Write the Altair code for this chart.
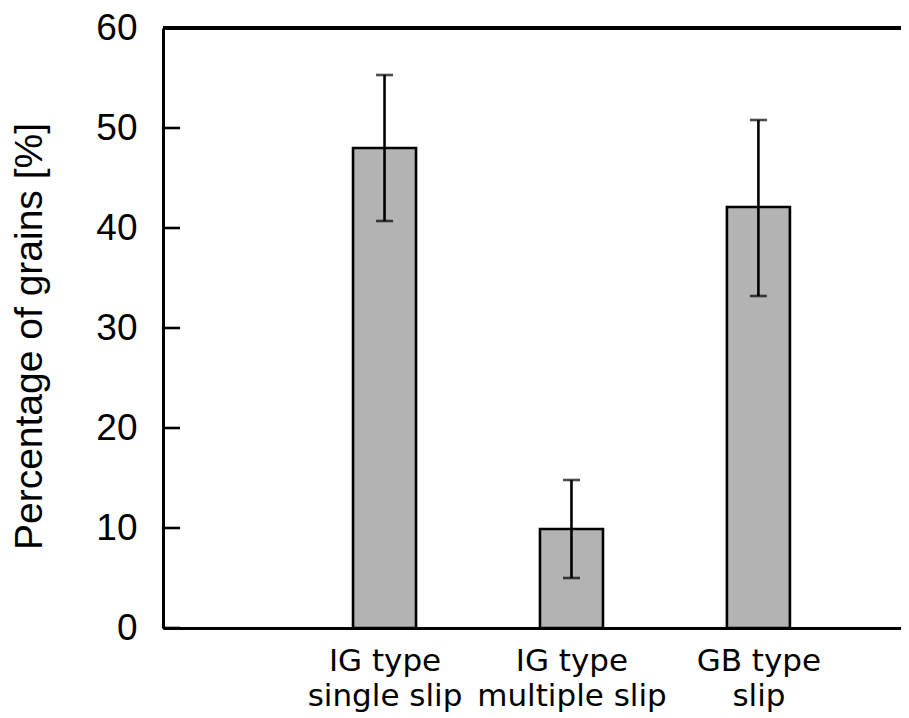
import json
import altair as alt
import pandas as pd

# ---- data ----
label_lines = [["IG type", "single slip"], ["IG type", "multiple slip"], ["GB type", "slip"]]
positions = [1, 2, 3]
values = [48.0, 9.9, 42.1]
err_low = [40.7, 5.0, 33.2]
err_high = [55.3, 14.8, 50.8]
y_ticks = [0, 10, 20, 30, 40, 50, 60]

df = pd.DataFrame({"pos": positions, "value": values, "lo": err_low, "hi": err_high})
ticks_df = pd.DataFrame({"t": y_ticks})

W, H = 738, 600
xscale = alt.Scale(domain=[-0.1583, 3.736], nice=False, zero=False)
yscale = alt.Scale(domain=[0, 60], nice=False)

expr = "''"
for p, lines in reversed(list(zip(positions, label_lines))):
    expr = f"datum.value == {p} ? {json.dumps(lines)} : ({expr})"

x_axis = alt.Axis(
    values=positions, labelExpr=expr, title=None, grid=False, ticks=False, tickSize=0,
    domain=True, domainColor="black", domainWidth=3,
    labelFont="DejaVu Sans", labelFontSize=31, labelColor="black", labelPadding=18,
    labelLineHeight=35, labelOverlap=False, labelBound=False, labelFlush=False, labelLimit=0,
)
y_axis = alt.Axis(
    values=y_ticks, title="Percentage of grains [%]", grid=False, ticks=False, tickSize=0,
    domain=True, domainColor="black", domainWidth=3,
    labelFont="Liberation Sans", labelFontSize=37, labelColor="black", labelPadding=26,
    titleFont="Liberation Sans", titleFontSize=39, titleFontWeight="normal", titleColor="black",
    titleAngle=-90, titleX=-122, titleY=308, titleAlign="center", titleBaseline="alphabetic",
)

bars = alt.Chart(df).mark_bar(size=63, color="#b3b3b3", stroke="black", strokeWidth=2.6).encode(
    x=alt.X("pos:Q", scale=xscale, axis=x_axis),
    y=alt.Y("value:Q", scale=yscale, axis=y_axis),
)
err = alt.Chart(df).mark_rule(color="black", strokeWidth=2.6).encode(
    x=alt.X("pos:Q", scale=xscale), y=alt.Y("lo:Q", scale=yscale), y2="hi:Q"
)
cap_hi = alt.Chart(df).mark_tick(orient="horizontal", size=17, thickness=2.6, color="black").encode(
    x=alt.X("pos:Q", scale=xscale), y=alt.Y("hi:Q", scale=yscale)
)
cap_lo = alt.Chart(df).mark_tick(orient="horizontal", size=17, thickness=2.6, color="black").encode(
    x=alt.X("pos:Q", scale=xscale), y=alt.Y("lo:Q", scale=yscale)
)
left_ticks = alt.Chart(ticks_df).mark_rule(color="black", strokeWidth=2.6).encode(
    y=alt.Y("t:Q", scale=yscale), x=alt.value(0), x2=alt.value(17)
)
top_line = alt.Chart(ticks_df).mark_rule(color="black", strokeWidth=3).encode(
    x=alt.value(0), x2=alt.value(W), y=alt.value(0)
)

chart = alt.layer(bars, err, cap_hi, cap_lo, left_ticks, top_line).properties(
    width=W, height=H,
    autosize=alt.AutoSizeParams(type="none"),
    padding={"left": 155, "top": 20, "right": 0, "bottom": 90},
).configure_view(stroke=None)

chart.save("out.html", embed_options={"renderer": "svg", "actions": False})
